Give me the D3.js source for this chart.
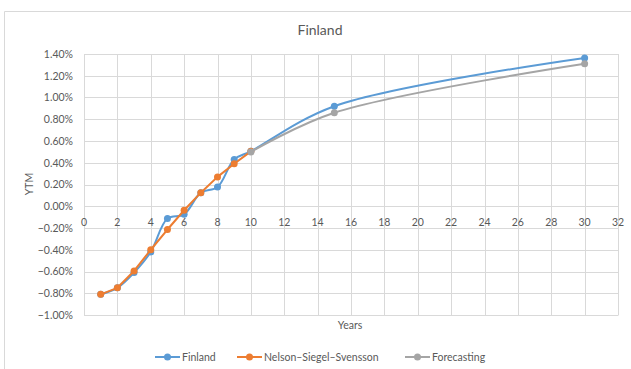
<!DOCTYPE html>
<html><head><meta charset="utf-8">
<script src="https://cdn.jsdelivr.net/npm/d3@7"></script>
<style>
body{margin:0;background:#fff;}
text{font-family:Lato,"Open Sans",sans-serif;fill:#595959;}
</style></head>
<body><svg id="c" width="631" height="369"></svg>
<script>
const title = "Finland";
const finlandYears = [1,2,3,4,5,6,7,8,9,10,15,30];
const finlandValues = [-0.81,-0.75,-0.61,-0.42,-0.113,-0.074,0.125,0.177,0.43,0.505,0.92,1.364];
const nssYears = [1,2,3,4,5,6,7,8,9,10];
const nssValues = [-0.81,-0.75,-0.595,-0.40,-0.214,-0.037,0.125,0.27,0.39,0.505];
const forecastYears = [10,15,30];
const forecastValues = [0.50,0.86,1.31];
const seriesNames = ["Finland","Nelson–Siegel–Svensson","Forecasting"];
const colors = ["#5B9BD5","#ED7D31","#A5A5A5"];
const xTicks = d3.range(0,33,2);
const yTicks = [1.4,1.2,1.0,0.8,0.6,0.4,0.2,0,-0.2,-0.4,-0.6,-0.8,-1.0];

const svg = d3.select("#c");
const L=84, R=618, T=54, B=315;
const x = d3.scaleLinear().domain([0,32]).range([L,R]);
const y = d3.scaleLinear().domain([-1.0,1.4]).range([B,T]);

// chart border (top and left visible)
svg.append("line").attr("x1",4.5).attr("x2",631).attr("y1",11.5).attr("y2",11.5).attr("stroke","#d9d9d9");
svg.append("line").attr("x1",4.5).attr("x2",4.5).attr("y1",11.5).attr("y2",369).attr("stroke","#d9d9d9");

// gridlines
const g = svg.append("g");
g.selectAll(".hg").data(yTicks).join("line")
  .attr("x1",L).attr("x2",R).attr("y1",d=>Math.round(y(d))+0.5).attr("y2",d=>Math.round(y(d))+0.5)
  .attr("stroke","#d9d9d9").attr("stroke-width",1);
g.selectAll(".vg").data(xTicks).join("line")
  .attr("x1",d=>Math.round(x(d))+0.5).attr("x2",d=>Math.round(x(d))+0.5).attr("y1",T).attr("y2",B+0.5)
  .attr("stroke","#d9d9d9").attr("stroke-width",1);

// y tick labels
svg.selectAll(".yl").data(yTicks).join("text")
  .attr("x",73).attr("y",d=>y(d)+3.8).attr("text-anchor","end")
  .attr("font-size","10.5px").text(d=>d3.format(".2f")(d)+"%");
// x tick labels (axis crosses at 0)
svg.selectAll(".xl").data(xTicks).join("text")
  .attr("x",d=>x(d)).attr("y",y(0)+20).attr("text-anchor","middle")
  .attr("font-size","10.5px").text(d=>d);

// titles
svg.append("text").attr("x",320).attr("y",35).attr("text-anchor","middle").attr("font-size","14px").text(title);
svg.append("text").attr("transform","translate(33,184) rotate(-90)").attr("text-anchor","middle").attr("font-size","10.5px").text("YTM");
svg.append("text").attr("x",350).attr("y",329).attr("text-anchor","middle").attr("font-size","10.5px").text("Years");

function series(xs, ys, color, curve){
  const pts = xs.map((d,i)=>[d,ys[i]]);
  const line = d3.line().x(d=>x(d[0])).y(d=>y(d[1])).curve(curve);
  svg.append("path").attr("d",line(pts)).attr("fill","none").attr("stroke",color).attr("stroke-width",2).attr("stroke-linejoin","round");
  svg.append("g").selectAll("circle").data(pts).join("circle")
    .attr("cx",d=>x(d[0])).attr("cy",d=>y(d[1])).attr("r",3.5).attr("fill",color);
}
series(finlandYears, finlandValues, colors[0], d3.curveCatmullRom.alpha(0.5));
series(nssYears, nssValues, colors[1], d3.curveLinear);
series(forecastYears, forecastValues, colors[2], d3.curveCatmullRom.alpha(0.5));

// legend
const legX = [155,237,405];
const lg = svg.append("g");
seriesNames.forEach((n,i)=>{
  const yy = 357;
  lg.append("line").attr("x1",legX[i]).attr("x2",legX[i]+25).attr("y1",yy).attr("y2",yy).attr("stroke",colors[i]).attr("stroke-width",2);
  lg.append("circle").attr("cx",legX[i]+12.5).attr("cy",yy).attr("r",3.5).attr("fill",colors[i]);
  lg.append("text").attr("x",legX[i]+27).attr("y",yy+4).attr("font-size","10.5px").text(n);
});
</script></body></html>
